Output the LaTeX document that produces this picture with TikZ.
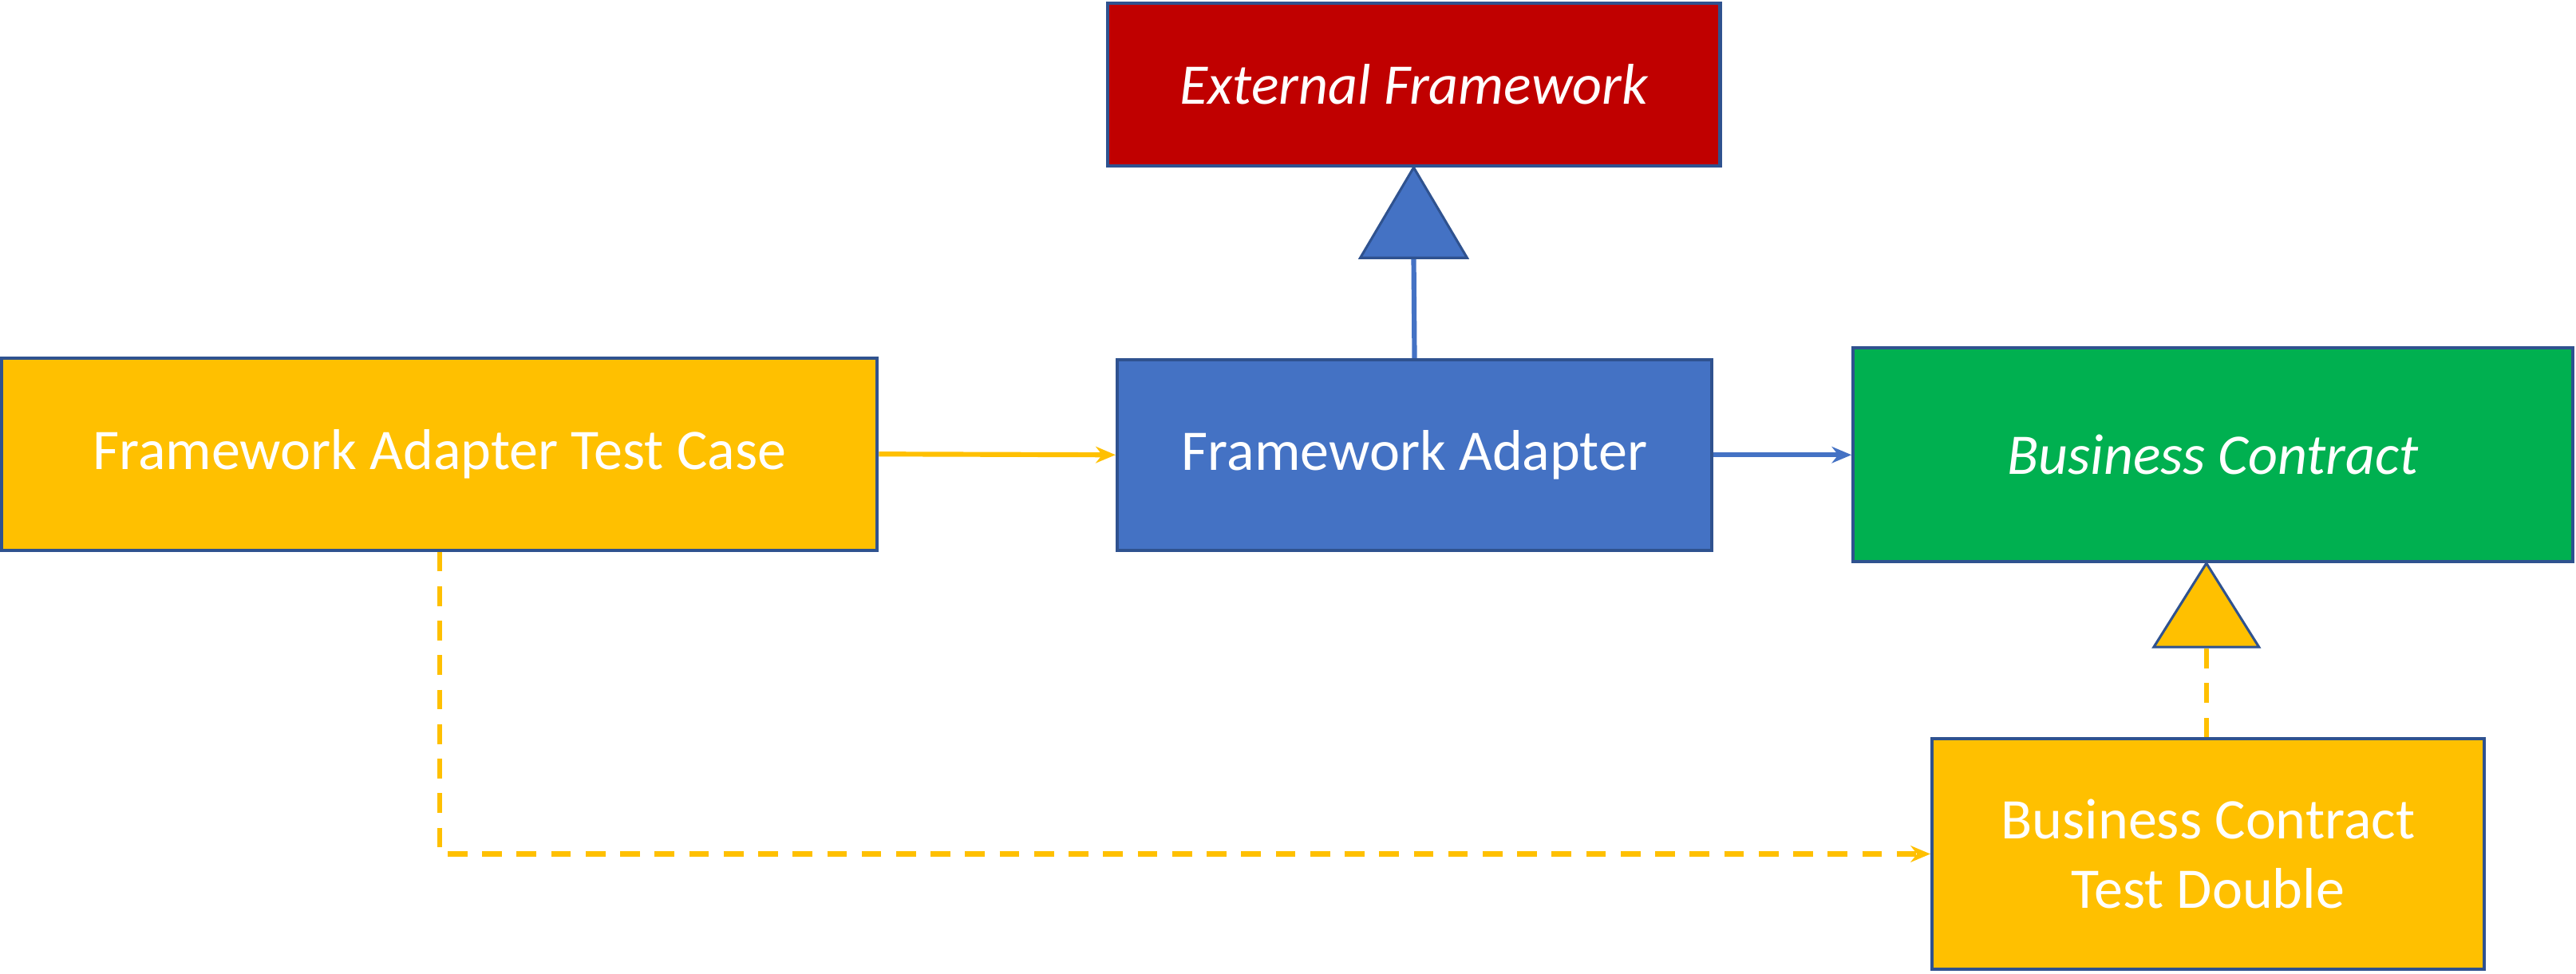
\documentclass[tikz,border=0pt]{standalone}
\usepackage{fontspec}
\setmainfont{Carlito}
\usetikzlibrary{arrows.meta}
\definecolor{bord}{HTML}{2F528F}
\definecolor{dred}{HTML}{C00000}
\definecolor{blu}{HTML}{4472C4}
\definecolor{grn}{HTML}{00B050}
\definecolor{amb}{HTML}{FFC000}
\begin{document}
\begin{tikzpicture}[x=1pt,y=-1pt,
 box/.style={draw=bord,line width=2pt,text=white,font=\fontsize{35}{42}\selectfont,align=center},
 tri/.style={draw=bord,line width=1.5pt},
 arr/.style={line width=3pt,-{Stealth[length=12pt,width=10pt]}}]
\useasboundingbox (0,0) rectangle (1568,593);
\node[box,fill=dred,minimum width=373pt,minimum height=99pt] (ef) at (860.5,51.5) {\itshape External Framework};
\node[box,fill=blu,minimum width=362pt,minimum height=116pt] (fa) at (861,277) {Framework Adapter};
\node[box,fill=grn,minimum width=438pt,minimum height=130pt] (bc) at (1347,277) {\itshape Business Contract};
\node[box,fill=amb,minimum width=533pt,minimum height=117pt] (tc) at (267.5,276.5) {Framework Adapter Test Case};
\node[box,fill=amb,minimum width=336pt,minimum height=140pt] (td) at (1344,520) {Business Contract\\Test Double};
\coordinate (t1) at (860.5,157);
\coordinate (t2) at (1343,394);
\draw[blu,line width=3pt] (fa.north) -- (t1);
\draw[tri,fill=blu] (828,157) -- (ef.south) -- (893,157) -- cycle;
\draw[amb,line width=3pt,dash pattern=on 12pt off 9pt] (td.north -| t2) -- (t2);
\draw[tri,fill=amb] (1311,394) -- (bc.south -| t2) -- (1375,394) -- cycle;
\draw[arr,amb] (tc.east) -- (fa.west);
\draw[arr,blu] (fa.east) -- (bc.west);
\draw[arr,amb,dash pattern=on 12pt off 9pt] (tc.south) |- (td.west);
\end{tikzpicture}
\end{document}
